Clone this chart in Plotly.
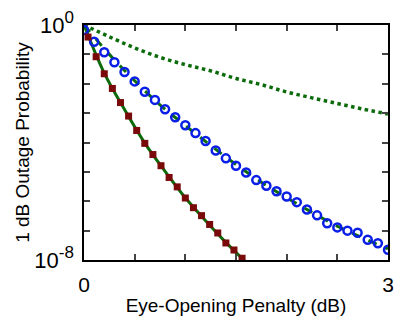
import plotly.graph_objects as go

# Eye-opening penalty (dB) and log10 of outage probability (as negative exponents)
circ_x = [0.0, 0.1, 0.2, 0.3, 0.4, 0.5, 0.6, 0.7, 0.8, 0.9, 1.0, 1.1, 1.2, 1.3, 1.4, 1.5,
          1.6, 1.7, 1.8, 1.9, 2.0, 2.1, 2.2, 2.3, 2.4, 2.5, 2.6, 2.7, 2.8, 2.9, 3.0]
circ_exp = [0.17, 0.57, 0.93, 1.27, 1.60, 1.92, 2.27, 2.55, 2.87, 3.14, 3.41, 3.68, 3.95, 4.27, 4.54, 4.79,
            5.02, 5.28, 5.47, 5.66, 5.84, 6.03, 6.28, 6.48, 6.75, 6.89, 7.00, 7.07, 7.31, 7.43, 7.65]

sq_x = [0.04, 0.12, 0.20, 0.28, 0.36, 0.44, 0.52, 0.60, 0.68, 0.76,
        0.84, 0.92, 1.00, 1.08, 1.16, 1.24, 1.32, 1.40, 1.48, 1.56]
sq_exp = [0.41, 1.08, 1.66, 2.16, 2.64, 3.10, 3.59, 4.03, 4.41, 4.79,
          5.19, 5.51, 5.89, 6.22, 6.49, 6.79, 7.08, 7.42, 7.66, 7.94]

dash_x = [0.0, 0.25, 0.5, 0.75, 1.0, 1.25, 1.5, 1.75, 2.0, 2.25, 2.5, 2.75, 3.0]
dash_exp = [0.0, 1.0, 1.9, 2.72, 3.42, 4.1, 4.75, 5.35, 5.88, 6.38, 6.85, 7.25, 7.62]

solid_x = [0.0, 0.2, 0.4, 0.6, 0.8, 1.0, 1.2, 1.4, 1.6, 1.7]
solid_exp = [0.0, 1.64, 2.88, 4.02, 4.98, 5.88, 6.66, 7.4, 8.08, 8.4]

dot_x = [0.0, 0.25, 0.5, 0.75, 1.0, 1.25, 1.5, 1.75, 2.0, 2.25, 2.5, 2.75, 3.0]
dot_exp = [0.0, 0.4, 0.78, 1.1, 1.35, 1.56, 1.82, 2.03, 2.28, 2.48, 2.67, 2.86, 3.03]

y_tickvals = [1e0, 1e-1, 1e-2, 1e-3, 1e-4, 1e-5, 1e-6, 1e-7, 1e-8]
y_ticktext = ["10<sup><span style='font-size:17px'>0</span></sup>", "", "", "", "", "", "", "",
              "10<sup><span style='font-size:17px'>-8</span></sup>"]
x_tickvals = [0, 0.5, 1, 1.5, 2, 2.5, 3]
x_ticktext = ["0", "", "", "", "", "", "3"]

def to_p(exps):
    return [10 ** (-e) for e in exps]

GREEN = "#0b6b0b"
fig = go.Figure()
fig.add_trace(go.Scatter(x=dot_x, y=to_p(dot_exp), mode="lines", line=dict(color=GREEN, width=3.5, dash="dot", shape="spline")))
fig.add_trace(go.Scatter(x=dash_x, y=to_p(dash_exp), mode="lines", line=dict(color=GREEN, width=3, dash="dash", shape="spline")))
fig.add_trace(go.Scatter(x=solid_x, y=to_p(solid_exp), mode="lines", line=dict(color=GREEN, width=3, shape="spline")))
fig.add_trace(go.Scatter(x=circ_x, y=to_p(circ_exp), mode="markers",
                         marker=dict(symbol="circle-open", size=8, color="#0a1ee6", line=dict(width=2.5, color="#0a1ee6"))))
fig.add_trace(go.Scatter(x=sq_x, y=to_p(sq_exp), mode="markers",
                         marker=dict(symbol="square", size=7, color="#7a0a0a")))

fig.update_layout(
    width=402, height=321, showlegend=False,
    margin=dict(l=84, r=8, t=17, b=57),
    plot_bgcolor="white", paper_bgcolor="white",
    font=dict(family="Liberation Sans, Arial, sans-serif", color="black"),
)
fig.update_xaxes(range=[0, 3], tickvals=x_tickvals, ticktext=x_ticktext, ticks="inside", ticklen=6,
                 tickwidth=1.5, showline=True, linewidth=1.5, linecolor="black", mirror="ticks",
                 showgrid=False, zeroline=False, tickfont=dict(size=21), ticklabelstandoff=5,
                 title=dict(text="Eye-Opening Penalty (dB)", font=dict(size=19), standoff=4))
fig.update_yaxes(type="log", range=[-8, 0], tickvals=y_tickvals, ticktext=y_ticktext, ticks="inside", ticklen=6,
                 tickwidth=1.5, showline=True, linewidth=1.5, linecolor="black", mirror="ticks",
                 showgrid=False, zeroline=False, tickfont=dict(size=22), ticklabelstandoff=4,
                 title=dict(text="1 dB Outage Probability", font=dict(size=19), standoff=0))

fig.write_html("out.html")
